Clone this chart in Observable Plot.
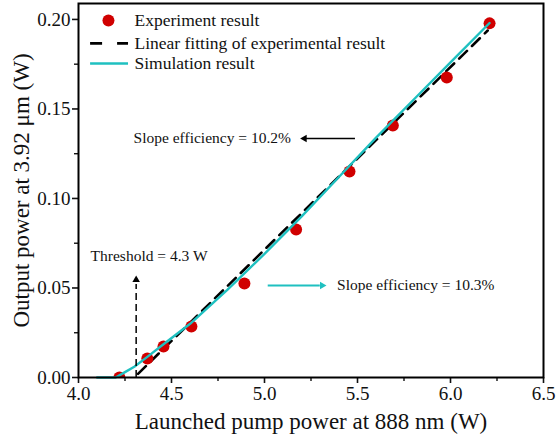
<!DOCTYPE html>
<html><head><meta charset="utf-8">
<script src="https://cdn.jsdelivr.net/npm/d3@7"></script>
<script src="https://cdn.jsdelivr.net/npm/@observablehq/plot@0.6"></script>
<style>body{margin:0;background:#fff} svg text{font-family:"Liberation Serif","Times New Roman",serif}</style>
</head><body><div id="chart"></div>
<script>
// Experimental data
const expX = [4.22, 4.37, 4.457, 4.607, 4.892, 5.17, 5.457, 5.69, 5.98, 6.21];
const expY = [0.0, 0.0106, 0.0173, 0.0285, 0.0525, 0.0827, 0.115, 0.1408, 0.1676, 0.1978];
// Linear fitting (slope 10.2%, threshold 4.3 W)
const fitX = [4.32, 6.2];
const fitY = [0.00204, 0.1938];
// Simulation curve
const simX = [4.1, 4.2, 4.25, 4.3, 4.37, 4.45, 4.6, 4.8, 5.0, 5.2, 5.4, 5.6, 5.8, 6.0, 6.21];
const simY = [0, 0, 0.003, 0.006, 0.0115, 0.018, 0.030, 0.049, 0.069, 0.090, 0.112, 0.134, 0.155, 0.176, 0.198];
// Ticks
const xTicks = [4.0, 4.5, 5.0, 5.5, 6.0, 6.5];
const xMinor = [4.25, 4.75, 5.25, 5.75, 6.25];
const yTicks = [0, 0.05, 0.10, 0.15, 0.20];
const yMinor = [0.025, 0.075, 0.125, 0.175];
// Labels
const xLabel = "Launched pump power at 888 nm (W)";
const yLabel = "Output power at 3.92 μm (W)";
const legendLabels = ["Experiment result", "Linear fitting of experimental result", "Simulation result"];
const legendY = [0.1994, 0.1866, 0.1754];
const legendLineX = [4.065, 4.269];
const legendDotX = 4.161;
const legendTextX = 4.301;
// Annotations
const annoText = ["Slope efficiency = 10.2%", "Threshold = 4.3 W", "Slope efficiency = 10.3%"];
const annoX = [4.296, 4.065, 5.39];
const annoY = [0.134, 0.0676, 0.0514];
const blackArrow = {x1: 5.489, x2: 5.225, y: 0.1335, head: 5.215};
const threshArrow = {x: 4.31, y1: 0, y2: 0.052, head: 0.0545};
const cyanArrow = {x1: 5.02, x2: 5.30, y: 0.0514, head: 5.31};

const red = "#d00000", cyan = "#1fc0c0";
const FONT = "'Liberation Serif', 'Times New Roman', serif";

const expData = expX.map((x, i) => ({x, y: expY[i]}));
const fitData = fitX.map((x, i) => ({x, y: fitY[i]}));
const simData = simX.map((x, i) => ({x, y: simY[i]}));

const chart = Plot.plot({
  width: 556, height: 447,
  marginLeft: 78, marginRight: 13, marginTop: 3, marginBottom: 70,
  x: {domain: [4, 6.5]},
  y: {domain: [0, 0.2089]},
  style: {fontFamily: FONT, background: "white", color: "#111"},
  marks: [
    Plot.axisX(xTicks, {tickSize: 6, tickPadding: 3, tickFormat: d => d.toFixed(1), fontSize: 19, fontFamily: FONT, label: null, strokeWidth: 1.6}),
    Plot.axisX(xMinor, {tickSize: 4, tickFormat: () => "", label: null, strokeWidth: 1.4}),
    Plot.axisY(yTicks, {tickSize: 6, tickPadding: 2, tickFormat: d => d.toFixed(2), fontSize: 19, fontFamily: FONT, label: null, strokeWidth: 1.6}),
    Plot.axisY(yMinor, {tickSize: 4, tickFormat: () => "", label: null, strokeWidth: 1.4}),
    Plot.text([xLabel], {frameAnchor: "bottom", dy: 51, fontSize: 23, fontFamily: FONT, fill: "#111"}),
    Plot.text([yLabel], {frameAnchor: "left", textAnchor: "middle", dx: -57, rotate: -90, fontSize: 23, fontFamily: FONT, fill: "#111"}),
    // data
    Plot.line(fitData, {x: "x", y: "y", stroke: "black", strokeWidth: 2.6, strokeDasharray: "11,7"}),
    Plot.dot(expData, {x: "x", y: "y", r: 6, fill: red, clip: true}),
    Plot.line(simData, {x: "x", y: "y", stroke: cyan, strokeWidth: 2.4}),
    // annotations
    Plot.text(annoText, {x: (d, i) => annoX[i], y: (d, i) => annoY[i], text: d => d, textAnchor: "start", fontSize: 15.5, fontFamily: FONT, fill: "#111"}),
    Plot.ruleY([blackArrow], {x1: "x1", x2: "x2", y: "y", stroke: "black", strokeWidth: 1.5}),
    Plot.dot([blackArrow], {x: "head", y: "y", symbol: "triangle2", r: 3.6, fill: "black", rotate: -90}),
    Plot.ruleX([threshArrow], {x: "x", y1: "y1", y2: "y2", stroke: "black", strokeWidth: 1.5, strokeDasharray: "7,4"}),
    Plot.dot([threshArrow], {x: "x", y: "head", symbol: "triangle2", r: 3.6, fill: "black"}),
    Plot.ruleY([cyanArrow], {x1: "x1", x2: "x2", y: "y", stroke: cyan, strokeWidth: 2}),
    Plot.dot([cyanArrow], {x: "head", y: "y", symbol: "triangle2", r: 3.6, fill: cyan, rotate: 90}),
    // legend
    Plot.dot([0], {x: legendDotX, y: legendY[0], r: 6, fill: red}),
    Plot.ruleY([legendY[1]], {x1: legendLineX[0], x2: legendLineX[1], y: d => d, stroke: "black", strokeWidth: 2.6, strokeDasharray: "12,15"}),
    Plot.ruleY([legendY[2]], {x1: legendLineX[0], x2: legendLineX[1], y: d => d, stroke: cyan, strokeWidth: 2.4}),
    Plot.text(legendLabels, {x: legendTextX, y: (d, i) => legendY[i], text: d => d, textAnchor: "start", fontSize: 17.5, fontFamily: FONT, fill: "#111"}),
    Plot.frame({stroke: "black", strokeWidth: 2})
  ]
});
document.getElementById("chart").appendChild(chart);
</script>
</body></html>
